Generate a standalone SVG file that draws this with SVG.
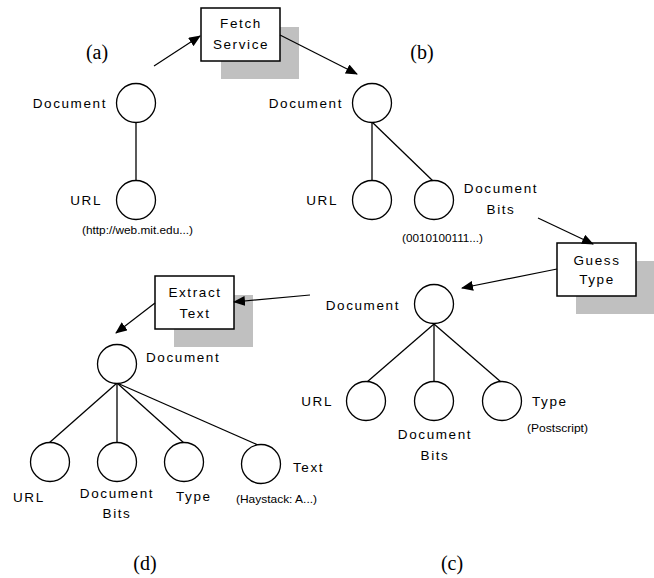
<svg xmlns="http://www.w3.org/2000/svg" width="654" height="578" viewBox="0 0 654 578">
  <style>
    .node { fill: #fff; stroke: #000; stroke-width: 1.3; }
    .edge { stroke: #000; stroke-width: 1.3; fill: none; }
    .flow { stroke: #000; stroke-width: 1.2; fill: none; marker-end: url(#head); }
    .box { fill: #fff; stroke: #000; stroke-width: 1.5; }
    .shadow { fill: #c0c0c0; }
    .lbl { font-family: "Liberation Sans", Arial, sans-serif; font-size: 13.5px; letter-spacing: 1.6px; fill: #000; }
    .val { font-family: "Liberation Sans", Arial, sans-serif; font-size: 11px; fill: #000; }
    .tag { font-family: "Liberation Serif", "Times New Roman", serif; font-size: 20px; fill: #000; }
  </style>
  <defs>
    <marker id="head" markerUnits="userSpaceOnUse" markerWidth="12" markerHeight="10" refX="11" refY="5" orient="auto">
      <path d="M0,0 L12,5 L0,10 Z" fill="#000"/>
    </marker>
  </defs>

  <rect width="654" height="578" fill="#fff"/>

  <!-- panel tags -->
  <text class="tag" x="97" y="59" text-anchor="middle">(a)</text>
  <text class="tag" x="422" y="59" text-anchor="middle">(b)</text>
  <text class="tag" x="452" y="570" text-anchor="middle">(c)</text>
  <text class="tag" x="145" y="570" text-anchor="middle">(d)</text>

  <!-- services -->
  <g id="fetch-service">
    <rect class="shadow" x="221" y="27" width="78" height="52"/>
    <rect class="box" x="201" y="8" width="79" height="53"/>
    <text class="lbl" x="241" y="28" text-anchor="middle">Fetch</text>
    <text class="lbl" x="241" y="49" text-anchor="middle">Service</text>
  </g>
  <g id="guess-type">
    <rect class="shadow" x="576" y="261" width="78" height="53"/>
    <rect class="box" x="557" y="243" width="79" height="53"/>
    <text class="lbl" x="597" y="265" text-anchor="middle">Guess</text>
    <text class="lbl" x="597" y="284" text-anchor="middle">Type</text>
  </g>
  <g id="extract-text">
    <rect class="shadow" x="174" y="295" width="79" height="52"/>
    <rect class="box" x="155" y="276" width="79" height="53"/>
    <text class="lbl" x="195" y="297" text-anchor="middle">Extract</text>
    <text class="lbl" x="195" y="318" text-anchor="middle">Text</text>
  </g>

  <!-- tree edges and service arrows -->
  <g id="connectors">
    <line class="edge" x1="136" y1="123" x2="136" y2="181"/>
    <line class="edge" x1="372" y1="122" x2="372" y2="181"/>
    <line class="edge" x1="372" y1="122" x2="433" y2="181"/>
    <line class="edge" x1="434" y1="324" x2="367" y2="382"/>
    <line class="edge" x1="434" y1="324" x2="434" y2="382"/>
    <line class="edge" x1="434" y1="324" x2="501" y2="382"/>
    <line class="edge" x1="117" y1="383" x2="49" y2="443"/>
    <line class="edge" x1="117" y1="383" x2="117" y2="443"/>
    <line class="edge" x1="117" y1="383" x2="184" y2="443"/>
    <line class="edge" x1="117" y1="383" x2="258" y2="445"/>

    <line class="flow" x1="154" y1="66" x2="200" y2="36"/>
    <line class="flow" x1="280" y1="35" x2="357" y2="74"/>
    <line class="flow" x1="538" y1="218" x2="593" y2="244"/>
    <line class="flow" x1="557" y1="269" x2="462" y2="288"/>
    <line class="flow" x1="310" y1="295" x2="234" y2="302"/>
    <line class="flow" x1="155" y1="303" x2="116" y2="333"/>
  </g>

  <!-- (a) -->
  <g id="a-document">
    <circle class="node" cx="136" cy="103" r="19.5"/>
    <text class="lbl" x="107" y="108" text-anchor="end">Document</text>
  </g>
  <g id="a-url">
    <circle class="node" cx="136" cy="200" r="19.5"/>
    <text class="lbl" x="102" y="205" text-anchor="end">URL</text>
    <text class="val" x="82" y="234" textLength="111" lengthAdjust="spacingAndGlyphs">(http://web.mit.edu...)</text>
  </g>

  <!-- (b) -->
  <g id="b-document">
    <circle class="node" cx="372" cy="103" r="19.5"/>
    <text class="lbl" x="343" y="108" text-anchor="end">Document</text>
  </g>
  <g id="b-url">
    <circle class="node" cx="372" cy="200" r="19.5"/>
    <text class="lbl" x="338" y="205" text-anchor="end">URL</text>
  </g>
  <g id="b-bits">
    <circle class="node" cx="434" cy="200" r="19.5"/>
    <text class="lbl" x="501" y="193" text-anchor="middle">Document</text>
    <text class="lbl" x="501" y="214" text-anchor="middle">Bits</text>
    <text class="val" x="402" y="242" textLength="81" lengthAdjust="spacingAndGlyphs">(0010100111...)</text>
  </g>

  <!-- (c) -->
  <g id="c-document">
    <circle class="node" cx="434" cy="304" r="19.5"/>
    <text class="lbl" x="400" y="310" text-anchor="end">Document</text>
  </g>
  <g id="c-url">
    <circle class="node" cx="366" cy="401" r="19.5"/>
    <text class="lbl" x="333" y="406" text-anchor="end">URL</text>
  </g>
  <g id="c-bits">
    <circle class="node" cx="434" cy="401" r="19.5"/>
    <text class="lbl" x="435" y="439" text-anchor="middle">Document</text>
    <text class="lbl" x="435" y="460" text-anchor="middle">Bits</text>
  </g>
  <g id="c-type">
    <circle class="node" cx="502" cy="401" r="19.5"/>
    <text class="lbl" x="532" y="406">Type</text>
    <text class="val" x="527" y="432" textLength="61" lengthAdjust="spacingAndGlyphs">(Postscript)</text>
  </g>

  <!-- (d) -->
  <g id="d-document">
    <circle class="node" cx="117" cy="364" r="19.5"/>
    <text class="lbl" x="146" y="362">Document</text>
  </g>
  <g id="d-url">
    <circle class="node" cx="50" cy="462" r="19.5"/>
    <text class="lbl" x="13" y="502">URL</text>
  </g>
  <g id="d-bits">
    <circle class="node" cx="117" cy="462" r="19.5"/>
    <text class="lbl" x="117" y="498" text-anchor="middle">Document</text>
    <text class="lbl" x="117" y="518" text-anchor="middle">Bits</text>
  </g>
  <g id="d-type">
    <circle class="node" cx="184" cy="462" r="19.5"/>
    <text class="lbl" x="176" y="501">Type</text>
  </g>
  <g id="d-text">
    <circle class="node" cx="261" cy="464" r="19.5"/>
    <text class="lbl" x="293" y="472">Text</text>
    <text class="val" x="236" y="503" textLength="81" lengthAdjust="spacingAndGlyphs">(Haystack: A...)</text>
  </g>
</svg>
